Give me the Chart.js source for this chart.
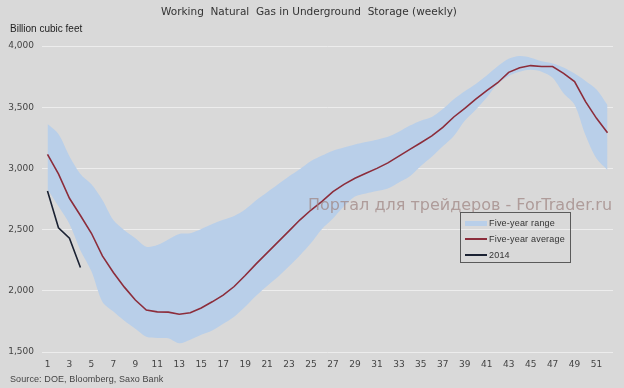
<!DOCTYPE html>
<html>
<head>
<meta charset="utf-8">
<script src="https://cdn.jsdelivr.net/npm/chart.js@4"></script>
<style>
  body { margin: 0; background: #d9d9d9; }
  #wrap { position: relative; width: 624px; height: 388px; background: #d9d9d9; overflow: hidden; }
  #c { position: absolute; left: 0; top: 0; }
  .txt { position: absolute; white-space: nowrap; }
  #title { left: 0; width: 618px; top: 5px; text-align: center; font: 10.5px "DejaVu Sans", sans-serif; color: #333; }
  #unit { left: 10px; top: 23px; font: 10px "Liberation Sans", sans-serif; color: #222; }
  #source { left: 10px; top: 374px; font: 9px "Liberation Sans", sans-serif; letter-spacing: 0.1px; color: #444; }
  #mark { left: 308px; top: 195px; font: 16px "DejaVu Sans", sans-serif; color: rgba(160, 135, 132, 0.75); }
  #legend { position: absolute; left: 460px; top: 212px; width: 109px; height: 49px; border: 1px solid #5a5a5a; }
  .item { position: absolute; left: 4px; height: 14px; width: 104px; white-space: nowrap; font: 9px "Liberation Sans", sans-serif; letter-spacing: 0.2px; color: #333; }
  .item span.sw { position: absolute; left: 0; width: 22px; }
  .item span.lb { position: absolute; left: 24px; top: 0; line-height: 14px; }
</style>
</head>
<body>
<div id="wrap">
  <canvas id="c" width="624" height="388"></canvas>
  <div class="txt" id="title">Working&nbsp; Natural&nbsp; Gas in Underground&nbsp; Storage (weekly)</div>
  <div class="txt" id="unit">Billion cubic feet</div>
  <div class="txt" id="mark">Портал для трейдеров - ForTrader.ru</div>
  <div class="txt" id="source">Source: DOE, Bloomberg, Saxo Bank</div>
  <div id="legend"></div>
</div>
<script>
// weeks of the year
const weeks = [1, 2, 3, 4, 5, 6, 7, 8, 9, 10, 11, 12, 13, 14, 15, 16, 17, 18, 19, 20,
  21, 22, 23, 24, 25, 26, 27, 28, 29, 30, 31, 32, 33, 34, 35, 36, 37, 38, 39, 40,
  41, 42, 43, 44, 45, 46, 47, 48, 49, 50, 51, 52];

// five-year range, top and bottom edge
const rangeHigh = [3363, 3281, 3100, 2955, 2870, 2742, 2578, 2495, 2430, 2360,
  2374, 2420, 2465, 2470, 2505, 2545, 2580, 2612, 2665, 2740,
  2805, 2870, 2935, 2995, 3060, 3105, 3145, 3170, 3195, 3215,
  3235, 3258, 3300, 3350, 3390, 3420, 3485, 3565, 3630, 3690,
  3760, 3835, 3895, 3918, 3905, 3875, 3858, 3825, 3775, 3715,
  3645, 3518];
const rangeLow = [2830, 2690, 2545, 2330, 2160, 1911, 1830, 1755, 1690, 1625,
  1615, 1612, 1571, 1600, 1640, 1675, 1730, 1789, 1870, 1960,
  2040, 2115, 2200, 2290, 2390, 2505, 2590, 2690, 2770, 2795,
  2815, 2835, 2885, 2935, 3020, 3095, 3180, 3265, 3390, 3480,
  3580, 3690, 3755, 3790, 3805, 3790, 3740, 3614, 3520, 3270,
  3080, 2987];

// five-year average
const avg5y = [3115, 2955, 2756, 2615, 2470, 2285, 2150, 2030, 1925, 1843,
  1828, 1826, 1808, 1820, 1860, 1910, 1965, 2035, 2125, 2220,
  2310, 2400, 2490, 2580, 2660, 2730, 2810, 2870, 2920, 2960,
  3000, 3045, 3100, 3155, 3210, 3265, 3335, 3420, 3490, 3565,
  3635, 3700, 3785, 3822, 3840, 3832, 3832, 3777, 3710, 3545,
  3409, 3292];

// 2014 so far
const y2014 = [2815, 2515, 2430, 2190];

const yTicks = [1500, 2000, 2500, 3000, 3500, 4000];

const BAND = '#b9cfe9';
const AVG = '#8c2d3b';
const CUR = '#1b2233';

const tickFont = { family: 'DejaVu Sans', size: 9 };

const chart = new Chart(document.getElementById('c'), {
    type: 'line',
    data: {
        labels: weeks,
        datasets: [
            { label: 'Five-year average', data: avg5y, borderColor: AVG, borderWidth: 1.6, pointRadius: 0, fill: false, tension: 0 },
            { label: '2014', data: y2014, borderColor: CUR, borderWidth: 1.6, pointRadius: 0, fill: false, tension: 0 },
            { label: 'Five-year range', data: rangeHigh, borderColor: 'rgba(0,0,0,0)', borderWidth: 0, backgroundColor: BAND, pointRadius: 0, fill: '+1', tension: 0.3 },
            { label: '', data: rangeLow, borderColor: 'rgba(0,0,0,0)', borderWidth: 0, pointRadius: 0, fill: false, tension: 0.3 }
        ]
    },
    options: {
        responsive: false,
        animation: false,
        devicePixelRatio: 1,
        layout: { padding: { top: 46, right: 11, left: 0, bottom: 0 } },
        plugins: {
            legend: { display: false },
            tooltip: { enabled: false },
            filler: { drawTime: 'beforeDatasetsDraw' }
        },
        scales: {
            x: {
                type: 'category',
                offset: true,
                grid: { display: false, drawTicks: false },
                border: { display: false },
                ticks: {
                    font: tickFont,
                    color: '#444',
                    autoSkip: false,
                    maxRotation: 0,
                    padding: 7,
                    callback: (v, i) => (i % 2 === 0 ? weeks[i] : '')
                },
                afterFit: s => { s.height = 36; }
            },
            y: {
                min: 1500,
                max: 4000,
                grid: { color: '#ededed', lineWidth: 1, drawTicks: false },
                border: { display: false },
                afterBuildTicks: s => { s.ticks = yTicks.map(v => ({ value: v })); },
                ticks: {
                    font: tickFont,
                    color: '#444',
                    padding: 8,
                    callback: v => v.toLocaleString('en-US')
                },
                afterFit: s => { s.width = 42; }
            }
        }
    }
});

// legend built from the datasets
const legendItems = [
    { label: chart.data.datasets[2].label, color: BAND, h: 5 },
    { label: chart.data.datasets[0].label, color: AVG, h: 2 },
    { label: chart.data.datasets[1].label, color: CUR, h: 2 }
];
const legendBox = document.getElementById('legend');
legendItems.forEach((it, i) => {
    const row = document.createElement('div');
    row.className = 'item';
    row.style.top = (3 + i * 16) + 'px';
    row.innerHTML = `<span class="sw" style="top:${7 - it.h / 2}px;height:${it.h}px;background:${it.color}"></span><span class="lb">${it.label}</span>`;
    legendBox.appendChild(row);
});
</script>
</body>
</html>
